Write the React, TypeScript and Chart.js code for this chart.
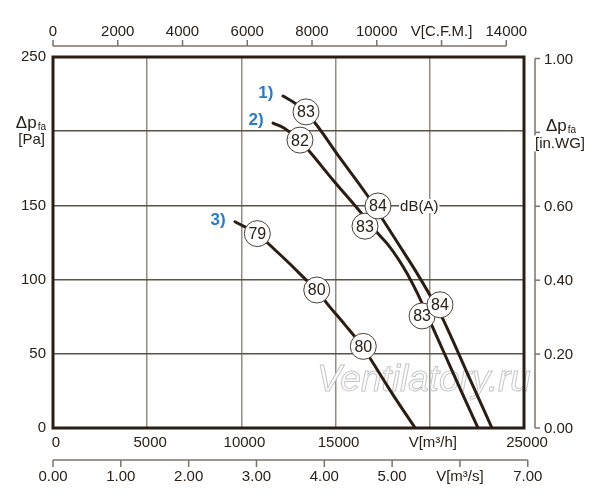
import React, { useEffect, useRef } from "react";
import Chart from "chart.js/auto";

// air volume in m³/h, static pressure in Pa
const curve1Flow = [12210, 12900, 13430, 13910, 15230, 16670, 17520, 18420, 19220, 20010, 20540, 20970, 22130, 23300];
const curve1Pressure = [223.7, 218.3, 212.3, 205.5, 182, 157, 140.2, 122.3, 106.4, 89.5, 77.4, 66, 33, 0];

const curve2Flow = [11680, 12260, 12690, 13110, 13640, 14860, 16140, 17250, 17780, 18310, 18840, 19370, 19900, 20810, 21710, 22560];
const curve2Pressure = [205.5, 202.2, 198.1, 193.4, 186, 167.1, 148.2, 131, 123.6, 114.2, 103.1, 90, 75.1, 49.2, 23.6, 0];

const curve3Flow = [9660, 10190, 10830, 11410, 12580, 13540, 14010, 14540, 15500, 16450, 16830, 17990, 19220];
const curve3Pressure = [139, 135.5, 131.5, 124.5, 110.5, 98.5, 93, 84, 69.5, 54.5, 47, 23.5, 0];

// sound level marks, dB(A)
const noise1Flow = [13430, 17250, 20540];
const noise1Pressure = [213, 149.6, 83];
const noise1 = ["83", "84", "84"];
const noise2Flow = [13110, 16560, 19590];
const noise2Pressure = [194, 136, 75.5];
const noise2 = ["82", "83", "83"];
const noise3Flow = [10845, 14000, 16470];
const noise3Pressure = [131, 93, 55];
const noise3 = ["79", "80", "80"];

const curveNames = ["1)", "2)", "3)"];
const curveNameFlow = [11300, 10780, 8760];
const curveNamePressure = [225.5, 207.5, 140];

const flowTicks = [0, 5000, 10000, 15000, 20000, 25000];
const flowLabels = ["0", "5000", "10000", "15000", "V[m³/h]", "25000"];
const pressureTicks = [0, 50, 100, 150, 200, 250];
const pressureLabels = ["0", "50", "100", "150", "", "250"];
const cfmTicks = [0, 2000, 4000, 6000, 8000, 10000, 12000, 14000];
const cfmLabels = ["0", "2000", "4000", "6000", "8000", "10000", "V[C.F.M.]", "14000"];
const m3sTicks = [0, 1, 2, 3, 4, 5, 6, 7];
const m3sLabels = ["0.00", "1.00", "2.00", "3.00", "4.00", "5.00", "V[m³/s]", "7.00"];
const inwgTicks = [0, 0.2, 0.4, 0.6, 0.8, 1.0];
const inwgLabels = ["0.00", "0.20", "0.40", "0.60", "", "1.00"];

const CFM_TO_M3H = 1.7186;
const INWG_TO_PA = 249;
const M3S_TO_M3H = 3600;

const FONT = "'Liberation Sans', Arial, sans-serif";
const INK = "#2a2018";
const CURVE = "#2b1d12";
const AXIS_GRAY = "#7c7268";
const BLUE = "#2b7bc2";

const toPoints = (xs: number[], ys: number[]) => xs.map((x, i) => ({ x, y: ys[i] }));

const noiseTexts = [noise1, noise2, noise3];

const overlay = {
  id: "overlay",
  beforeDatasetsDraw(chart: any) {
    const { ctx, chartArea: a } = chart;
    ctx.save();
    ctx.font = `italic 37px ${FONT}`;
    ctx.textAlign = "left";
    ctx.textBaseline = "alphabetic";
    ctx.fillStyle = "#ffffff";
    ctx.strokeStyle = "#c6c6c6";
    ctx.lineWidth = 1;
    ctx.fillText("Ventilatory.ru", a.left + 264, a.bottom - 37);
    ctx.strokeText("Ventilatory.ru", a.left + 264, a.bottom - 37);
    ctx.restore();
  },
  afterDatasetsDraw(chart: any) {
    const { ctx, chartArea: a, scales } = chart;
    const x = scales.x;
    const y = scales.y;
    ctx.save();

    // plot frame
    ctx.strokeStyle = CURVE;
    ctx.lineWidth = 3;
    ctx.strokeRect(a.left, a.top, a.right - a.left, a.bottom - a.top);

    // numbers in circles
    ctx.fillStyle = INK;
    ctx.font = `16px ${FONT}`;
    ctx.textAlign = "center";
    ctx.textBaseline = "middle";
    [3, 4, 5].forEach((di, k) => {
      const meta = chart.getDatasetMeta(di);
      meta.data.forEach((pt: any, i: number) => {
        ctx.fillText(noiseTexts[k][i], pt.x, pt.y + 1);
      });
    });

    // dB(A)
    ctx.font = `15px ${FONT}`;
    ctx.textAlign = "left";
    const dbX = x.getPixelForValue(18420);
    const dbY = y.getPixelForValue(149.6);
    const w = ctx.measureText("dB(A)").width;
    ctx.fillStyle = "#ffffff";
    ctx.fillRect(dbX - 1, dbY - 7, w + 2, 14);
    ctx.fillStyle = INK;
    ctx.fillText("dB(A)", dbX, dbY + 1);

    // curve names
    ctx.font = `bold 17px ${FONT}`;
    ctx.textAlign = "center";
    ctx.fillStyle = BLUE;
    curveNames.forEach((n, i) => {
      ctx.fillText(n, x.getPixelForValue(curveNameFlow[i]), y.getPixelForValue(curveNamePressure[i]));
    });
    ctx.restore();
  },
  afterDraw(chart: any) {
    const { ctx, chartArea: a, scales } = chart;
    const x = scales.x;
    const y = scales.y;
    ctx.save();
    ctx.strokeStyle = AXIS_GRAY;
    ctx.lineWidth = 1.5;
    ctx.fillStyle = INK;
    ctx.font = `15px ${FONT}`;
    const seg = (x0: number, y0: number, x1: number, y1: number) => {
      ctx.beginPath();
      ctx.moveTo(x0, y0);
      ctx.lineTo(x1, y1);
      ctx.stroke();
    };

    // top axis, C.F.M.
    const topY = a.top - 11;
    ctx.textAlign = "center";
    ctx.textBaseline = "middle";
    seg(x.getPixelForValue(0), topY, x.getPixelForValue(cfmTicks[cfmTicks.length - 1] * CFM_TO_M3H), topY);
    cfmTicks.forEach((v, i) => {
      const px = x.getPixelForValue(v * CFM_TO_M3H);
      seg(px, topY, px, topY - 6);
      ctx.fillText(cfmLabels[i], px, topY - 14);
    });

    // second bottom axis, m³/s
    const botY = a.bottom + 32;
    seg(x.getPixelForValue(0), botY, x.getPixelForValue(m3sTicks[m3sTicks.length - 1] * M3S_TO_M3H), botY);
    m3sTicks.forEach((v, i) => {
      const px = x.getPixelForValue(v * M3S_TO_M3H);
      seg(px, botY, px, botY + 7);
      ctx.fillText(m3sLabels[i], px, botY + 17);
    });

    // right axis, in.WG
    const rx = a.right + 11;
    seg(rx, y.getPixelForValue(inwgTicks[inwgTicks.length - 1] * INWG_TO_PA), rx, y.getPixelForValue(0));
    ctx.textAlign = "left";
    inwgTicks.forEach((v, i) => {
      const py = y.getPixelForValue(v * INWG_TO_PA);
      seg(rx, py, rx + 5, py);
      if (inwgLabels[i]) ctx.fillText(inwgLabels[i], rx + 9, py + 1);
    });

    // axis titles
    const drawDelta = (right: number | null, left: number | null, cy: number) => {
      ctx.font = `17px ${FONT}`;
      const w1 = ctx.measureText("Δp").width;
      ctx.font = `10px ${FONT}`;
      const w2 = ctx.measureText("fa").width;
      const start = left !== null ? left : (right as number) - w1 - w2 - 1;
      ctx.textAlign = "left";
      ctx.font = `17px ${FONT}`;
      ctx.fillText("Δp", start, cy);
      ctx.font = `10px ${FONT}`;
      ctx.fillText("fa", start + w1 + 1, cy + 4);
    };
    const py200 = y.getPixelForValue(pressureTicks[4]);
    drawDelta(46, null, py200 - 8);
    ctx.font = `15px ${FONT}`;
    ctx.textAlign = "right";
    ctx.fillText("[Pa]", 45, py200 + 9);

    const py08 = y.getPixelForValue(inwgTicks[4] * INWG_TO_PA);
    drawDelta(null, rx + 11, py08 - 6);
    ctx.font = `15px ${FONT}`;
    ctx.textAlign = "left";
    const wg = ctx.measureText("[in.WG]").width;
    ctx.fillStyle = "#ffffff";
    ctx.fillRect(rx - 2, py08 + 3, wg + 4, 16);
    ctx.fillStyle = INK;
    ctx.fillText("[in.WG]", rx, py08 + 11);
    ctx.restore();
  },
};

const App: React.FC = () => {
  const chartRef = useRef<HTMLCanvasElement>(null);
  const chartInstance = useRef<Chart | null>(null);

  useEffect(() => {
    if (!chartRef.current) return;
    const ctx = chartRef.current.getContext("2d");
    if (!ctx) return;

    const curveStyle = {
      showLine: true,
      borderColor: CURVE,
      borderWidth: 3,
      pointRadius: 0,
      cubicInterpolationMode: "monotone" as const,
      borderCapStyle: "round" as const,
      order: 1,
    };
    const circleStyle = {
      showLine: false,
      pointRadius: 13,
      pointStyle: "circle" as const,
      backgroundColor: "#ffffff",
      borderColor: "#4a4038",
      borderWidth: 1,
      order: 0,
    };

    chartInstance.current = new Chart(ctx, {
      type: "scatter",
      data: {
        datasets: [
          { ...curveStyle, data: toPoints(curve1Flow, curve1Pressure) },
          { ...curveStyle, data: toPoints(curve2Flow, curve2Pressure) },
          { ...curveStyle, data: toPoints(curve3Flow, curve3Pressure) },
          { ...circleStyle, data: toPoints(noise1Flow, noise1Pressure) },
          { ...circleStyle, data: toPoints(noise2Flow, noise2Pressure) },
          { ...circleStyle, data: toPoints(noise3Flow, noise3Pressure) },
        ],
      },
      options: {
        animation: false,
        responsive: false,
        layout: { padding: { top: 57, right: 76, left: 0, bottom: 0 } },
        plugins: {
          legend: { display: false },
          tooltip: { enabled: false },
        },
        scales: {
          x: {
            type: "linear",
            position: "bottom",
            min: flowTicks[0],
            max: flowTicks[flowTicks.length - 1],
            afterFit: (s: any) => {
              s.height = 72;
            },
            afterBuildTicks: (s: any) => {
              s.ticks = flowTicks.map((value) => ({ value }));
            },
            ticks: {
              autoSkip: false,
              maxRotation: 0,
              padding: 6,
              labelOffset: 3,
              color: INK,
              font: { family: FONT, size: 15 },
              callback: (v: any) => flowLabels[flowTicks.indexOf(Number(v))],
            },
            grid: { color: "#958b81", lineWidth: 1.5, drawTicks: false },
            border: { display: false },
          },
          y: {
            type: "linear",
            position: "left",
            min: pressureTicks[0],
            max: pressureTicks[pressureTicks.length - 1],
            afterFit: (s: any) => {
              s.width = 53;
            },
            afterBuildTicks: (s: any) => {
              s.ticks = pressureTicks.map((value) => ({ value }));
            },
            ticks: {
              padding: 7,
              color: INK,
              font: { family: FONT, size: 15 },
              callback: (v: any) => pressureLabels[pressureTicks.indexOf(Number(v))],
            },
            grid: { color: "#5e5246", lineWidth: 1.5, drawTicks: false },
            border: { display: false },
          },
        },
      },
      plugins: [overlay],
    });

    return () => {
      if (chartInstance.current) {
        chartInstance.current.destroy();
      }
    };
  }, []);

  return (
    <div style={{ position: "absolute", left: 0, top: 0, width: 600, height: 500, background: "#fff" }}>
      <canvas ref={chartRef} width={600} height={500} style={{ display: "block" }} />
    </div>
  );
};

export default App;
